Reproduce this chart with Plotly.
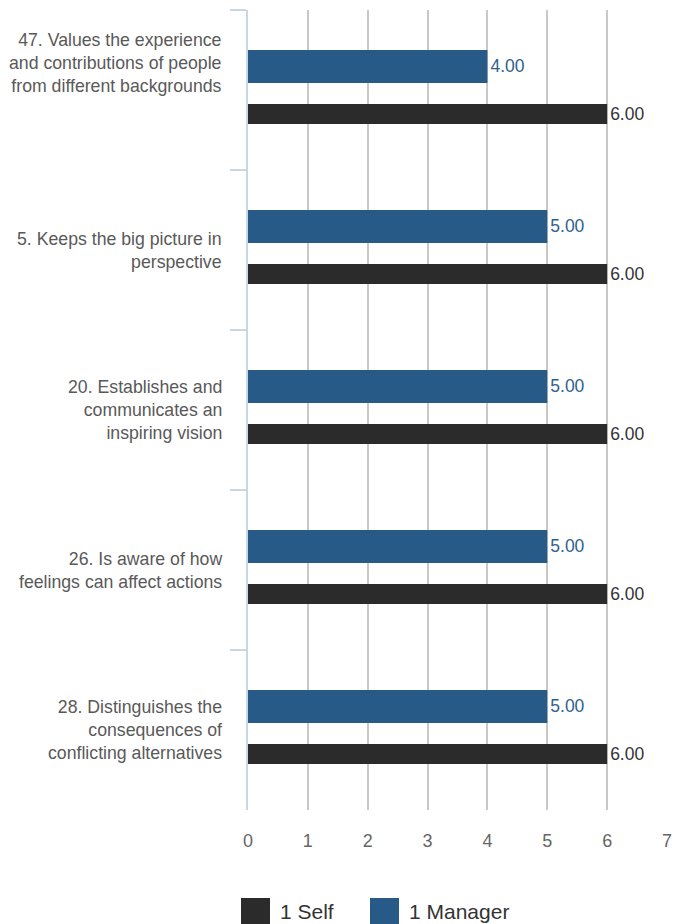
import plotly.graph_objects as go

# Survey items (top to bottom) and ratings
items = [
    "47. Values the experience<br>and contributions of people<br>from different backgrounds",
    "5. Keeps the big picture in<br>perspective",
    "20. Establishes and<br>communicates an<br>inspiring vision",
    "26. Is aware of how<br>feelings can affect actions",
    "28. Distinguishes the<br>consequences of<br>conflicting alternatives",
]
self_scores = [6, 6, 6, 6, 6]
manager_scores = [4, 5, 5, 5, 5]
series_names = ["1 Self", "1 Manager"]
x_ticks = [0, 1, 2, 3, 4, 5, 6, 7]

SELF_COLOR = "#2b2b2b"
MANAGER_COLOR = "#285a87"
AXIS_BLUE = "#c8d7e6"
FONT = "Liberation Sans, Arial, sans-serif"

W, H = 685, 924
L, R, T, B = 248, 18, 10, 114


def px_x(p):
    return (p - L) / (W - L - R)


def px_y(p):
    return (H - B - p) / (H - T - B)


fig = go.Figure()

fig.add_trace(go.Bar(
    y=items, x=manager_scores, orientation="h", name=series_names[1],
    marker=dict(color=MANAGER_COLOR, line=dict(width=0)),
    offset=-0.25, width=0.206,
    texttemplate="%{x:.2f}", textposition="outside",
    textfont=dict(color="#2e5f8e", size=17.5, family=FONT),
    cliponaxis=False, showlegend=False,
))
fig.add_trace(go.Bar(
    y=items, x=self_scores, orientation="h", name=series_names[0],
    marker=dict(color=SELF_COLOR, line=dict(width=0)),
    offset=0.0875, width=0.125,
    texttemplate="%{x:.2f}", textposition="outside",
    textfont=dict(color="#333333", size=17.5, family=FONT),
    cliponaxis=False, showlegend=False,
))

# Category labels, right-aligned left of the axis
annotations = []
for i, label in enumerate(items):
    annotations.append(dict(
        x=0, xref="x", y=label, yref="y", text=label, showarrow=False,
        xanchor="right", yanchor="middle", align="right", xshift=-24,
        yshift=27 if i == 0 else 0,
        font=dict(size=17.7, color="#595959", family=FONT),
    ))

# Legend drawn as large swatches below the axis
shapes = []
legend_items = [(series_names[0], SELF_COLOR, 241), (series_names[1], MANAGER_COLOR, 370)]
for name, color, left in legend_items:
    shapes.append(dict(
        type="rect", xref="paper", yref="paper",
        x0=px_x(left), x1=px_x(left + 29), y0=px_y(898), y1=px_y(927),
        fillcolor=color, line=dict(width=0), layer="above",
    ))
    annotations.append(dict(
        x=px_x(left + 37), y=px_y(911), xref="paper", yref="paper",
        text=name, showarrow=False, xanchor="left", yanchor="middle",
        font=dict(size=21, color="#333333", family=FONT),
    ))

fig.update_layout(
    width=W, height=H,
    margin=dict(l=L, r=R, t=T, b=B, pad=0),
    paper_bgcolor="white", plot_bgcolor="white",
    barmode="overlay", uniformtext=dict(mode=False),
    font=dict(family=FONT),
    annotations=annotations, shapes=shapes,
    showlegend=False,
)
fig.update_traces(constraintext="none")

fig.update_xaxes(
    range=[0, 7], tickvals=x_ticks, ticktext=[str(v) for v in x_ticks],
    showgrid=True, gridcolor="#c8c8c8", gridwidth=2,
    zeroline=False, showline=False, ticks="",
    tickfont=dict(size=18, color="#666666", family=FONT),
    ticklabelstandoff=18,
)
fig.update_yaxes(
    type="category", categoryorder="array", categoryarray=items,
    range=[4.5, -0.5], showticklabels=False,
    showgrid=False, zeroline=False,
    showline=True, linecolor=AXIS_BLUE, linewidth=2,
    ticks="outside", tickson="boundaries", ticklen=16,
    tickcolor=AXIS_BLUE, tickwidth=2,
)

fig.write_html("out.html")
